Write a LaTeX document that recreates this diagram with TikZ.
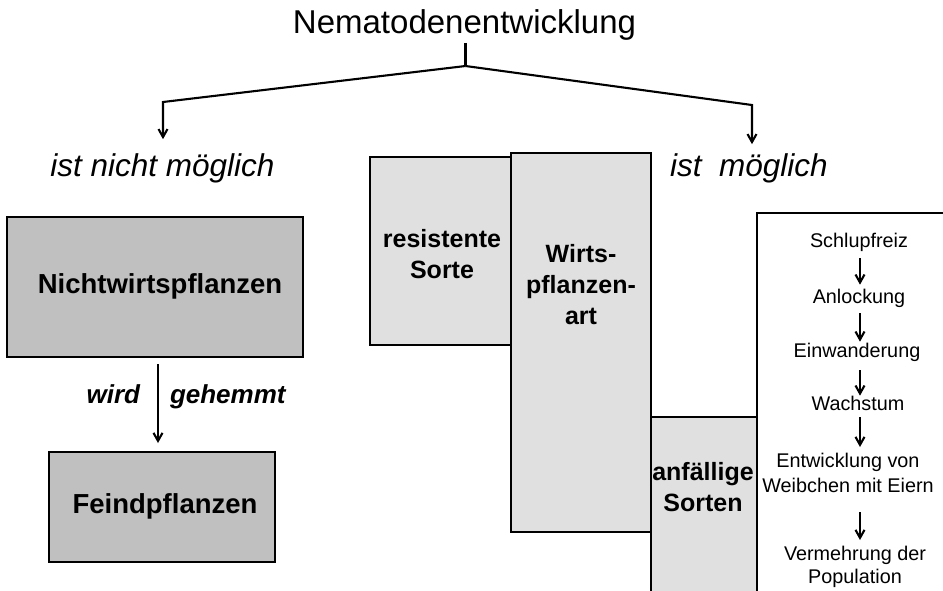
\documentclass[tikz,border=0pt]{standalone}
\usepackage{fontspec}
\setmainfont{Liberation Sans}
\usetikzlibrary{arrows.meta}
\newcommand\mylines[1]{\begin{tabular}[t]{@{}c@{}}#1\end{tabular}}
\definecolor{boxgray}{HTML}{C0C0C0}
\definecolor{speck}{HTML}{E0E0E0}
\begin{document}
\begin{tikzpicture}[x=1pt,y=-1pt,
  box/.style={draw=black, line width=2.2pt, anchor=north west, inner sep=0pt, outer sep=0pt},
  lbl/.style={inner sep=0pt, outer sep=0pt, anchor=base},
  conn/.style={line width=2.1pt, line cap=butt},
  arr/.style={conn, -{Straight Barb[length=8pt,width=9pt]}},
  titlefont/.style={font=\fontsize{33}{40}\selectfont},
  itl/.style={font=\fontsize{31.5}{37}\selectfont\itshape},
  bigb/.style={font=\fontsize{27.5}{33}\selectfont\bfseries},
  midb/.style={font=\fontsize{25}{31}\selectfont\bfseries},
  bi/.style={font=\fontsize{26}{31}\selectfont\bfseries\itshape},
  small/.style={font=\fontsize{19.8}{25}\selectfont}
]
\clip (0,0) rectangle (943,590);
\fill[white] (0,0) rectangle (943,590);

% title and branches
\node[lbl, titlefont] (title) at (464.5,33) {Nematodenentwicklung};
\coordinate (jn) at (465.5,66);
\coordinate (lc) at (163,102);
\coordinate (rc) at (752,105);
\node[lbl, itl] (nicht) at (162.5,176) {ist nicht möglich};
\node[lbl, itl] (mgl) at (749,176) {ist\ \ möglich};
\draw[conn, shorten <=3pt] (title.south -| jn) -- (jn);
\draw[arr, shorten >=14pt] (jn) -- (lc) -- (lc |- nicht.north);
\draw[arr, shorten >=9pt] (jn) -- (rc) -- (rc |- mgl.north);

% left column
\node[box, fill=boxgray, minimum width=296pt, minimum height=140pt] (nwp) at (7,217) {};
\node[box, fill=boxgray, minimum width=226pt, minimum height=110pt] (feind) at (49,452) {};
\node[lbl, bigb] (nwpt) at (160,293) {Nichtwirtspflanzen};
\node[lbl, bigb] (feindt) at (165,513) {Feindpflanzen};
\node[lbl, bi, anchor=base east] (wird) at (140,403) {wird};
\node[lbl, bi, anchor=base west] (geh) at (170,403) {gehemmt};
\coordinate (ax1) at (158,0);
\draw[arr, shorten <=7pt, shorten >=9pt] (nwp.south -| ax1) -- (feind.north -| ax1);

% host plant boxes
\node[box, fill=speck, minimum width=141pt, minimum height=188pt] (res) at (370,157) {};
\node[box, fill=speck, minimum width=140pt, minimum height=379pt] (wirts) at (511,153) {};
\node[box, fill=speck, minimum width=106pt, minimum height=200pt] (anf) at (651,417) {};
\node[box, fill=white, minimum width=220pt, minimum height=420pt] (proc) at (757,213) {};
\node[lbl, midb] (rest) at (442,247) {\mylines{resistente\\Sorte}};
\node[lbl, midb] (wirtst) at (581,262) {\mylines{Wirts-\\pflanzen-\\art}};
\node[lbl, midb] (anft) at (703,480) {\mylines{anfällige\\Sorten}};

% process column
\node[lbl, small] (s1) at (859,247) {Schlupfreiz};
\node[lbl, small] (s2) at (859,303) {Anlockung};
\node[lbl, small] (s3) at (857,357) {Einwanderung};
\node[lbl, small] (s4) at (858,410) {Wachstum};
\node[lbl, small] (s5) at (848,467) {\mylines{Entwicklung von\\Weibchen mit Eiern}};
\node[lbl, small] (s6) at (855,560) {\mylines{Vermehrung der\\[-2pt]Population}};
\coordinate (ax2) at (860,0);
\draw[arr, shorten <=7pt, shorten >=4pt] (s1.south -| ax2) -- (s2.north -| ax2);
\draw[arr, shorten <=6pt, shorten >=1pt] (s2.south -| ax2) -- (s3.north -| ax2);
\draw[arr, shorten <=9pt, shorten >=0pt] (s3.south -| ax2) -- (s4.north -| ax2);
\draw[arr, shorten <=7pt, shorten >=2.5pt] (s4.south -| ax2) -- (s5.north -| ax2);
\draw[arr, shorten <=12.5pt, shorten >=2.5pt] (s5.south -| ax2) -- (s6.north -| ax2);
\end{tikzpicture}
\end{document}
